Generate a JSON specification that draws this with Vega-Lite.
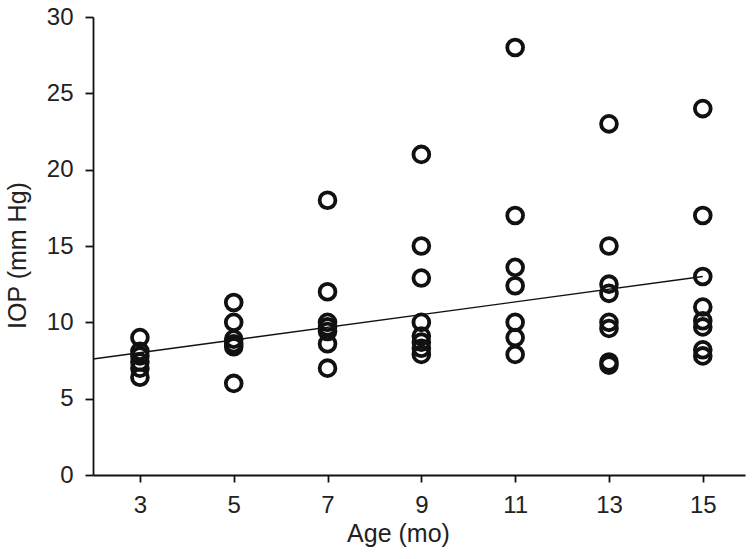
{
  "$schema": "https://vega.github.io/schema/vega-lite/v6.json",
  "width": 652,
  "height": 458,
  "autosize": {"type": "none"},
  "padding": {"left": 93, "top": 17, "right": 7, "bottom": 84},
  "background": "white",
  "config": {
    "view": {"stroke": null},
    "font": "Liberation Sans"
  },
  "datasets": {
    "pts": [
      {"age": 3, "iop": 9.0}, {"age": 3, "iop": 8.1}, {"age": 3, "iop": 7.8}, {"age": 3, "iop": 7.4}, {"age": 3, "iop": 7.0}, {"age": 3, "iop": 6.4},
      {"age": 5, "iop": 11.3}, {"age": 5, "iop": 10.0}, {"age": 5, "iop": 8.9}, {"age": 5, "iop": 8.6}, {"age": 5, "iop": 8.4}, {"age": 5, "iop": 6.0},
      {"age": 7, "iop": 18.0}, {"age": 7, "iop": 12.0}, {"age": 7, "iop": 10.0}, {"age": 7, "iop": 9.7}, {"age": 7, "iop": 9.4}, {"age": 7, "iop": 8.6}, {"age": 7, "iop": 7.0},
      {"age": 9, "iop": 21.0}, {"age": 9, "iop": 15.0}, {"age": 9, "iop": 12.9}, {"age": 9, "iop": 10.0}, {"age": 9, "iop": 9.1}, {"age": 9, "iop": 8.7}, {"age": 9, "iop": 8.3}, {"age": 9, "iop": 7.9},
      {"age": 11, "iop": 28.0}, {"age": 11, "iop": 17.0}, {"age": 11, "iop": 13.6}, {"age": 11, "iop": 12.4}, {"age": 11, "iop": 10.0}, {"age": 11, "iop": 9.0}, {"age": 11, "iop": 7.9},
      {"age": 13, "iop": 23.0}, {"age": 13, "iop": 15.0}, {"age": 13, "iop": 12.5}, {"age": 13, "iop": 11.9}, {"age": 13, "iop": 10.0}, {"age": 13, "iop": 9.6}, {"age": 13, "iop": 7.4}, {"age": 13, "iop": 7.2},
      {"age": 15, "iop": 24.0}, {"age": 15, "iop": 17.0}, {"age": 15, "iop": 13.0}, {"age": 15, "iop": 11.0}, {"age": 15, "iop": 10.1}, {"age": 15, "iop": 9.7}, {"age": 15, "iop": 8.2}, {"age": 15, "iop": 7.8}
    ],
    "fit": [
      {"age": 2, "iop": 7.6},
      {"age": 15, "iop": 13.0}
    ]
  },
  "layer": [
    {
      "data": {"name": "fit"},
      "mark": {"type": "line", "color": "#111", "strokeWidth": 1.4},
      "encoding": {
        "x": {"field": "age", "type": "quantitative"},
        "y": {"field": "iop", "type": "quantitative"}
      }
    },
    {
      "data": {"name": "pts"},
      "mark": {"type": "point", "shape": "circle", "filled": false, "stroke": "#111", "strokeWidth": 3.8, "size": 250, "opacity": 1},
      "encoding": {
        "x": {
          "field": "age", "type": "quantitative",
          "scale": {"domain": [2, 15.9], "nice": false, "zero": false},
          "axis": {
            "values": [3, 5, 7, 9, 11, 13, 15], "title": "Age (mo)", "grid": false,
            "tickSize": 7, "labelPadding": 11, "titlePadding": 4, "titleX": 305,
            "domainColor": "#111", "domainWidth": 1.8, "tickColor": "#111", "tickWidth": 1.8,
            "labelFont": "Liberation Sans", "titleFont": "Liberation Sans",
            "labelFontSize": 24, "titleFontSize": 25, "titleFontWeight": "normal",
            "labelColor": "#222", "titleColor": "#222"
          }
        },
        "y": {
          "field": "iop", "type": "quantitative",
          "scale": {"domain": [0, 30], "nice": false},
          "axis": {
            "values": [0, 5, 10, 15, 20, 25, 30], "title": "IOP (mm Hg)", "grid": false,
            "tickSize": 8, "labelPadding": 12, "titlePadding": 16, "titleY": 238,
            "domainColor": "#111", "domainWidth": 1.8, "tickColor": "#111", "tickWidth": 1.8,
            "labelFont": "Liberation Sans", "titleFont": "Liberation Sans",
            "labelFontSize": 24, "titleFontSize": 25, "titleFontWeight": "normal",
            "labelColor": "#222", "titleColor": "#222"
          }
        }
      }
    }
  ]
}
